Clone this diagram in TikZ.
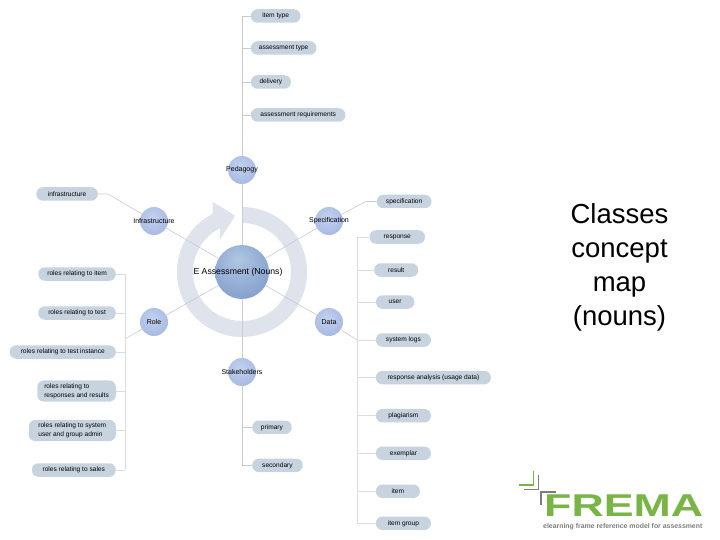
\documentclass[tikz,border=0pt]{standalone}
\usepackage{xcolor}
\usepackage{fontspec}
\usepackage{tikz}
\usetikzlibrary{positioning}
\setmainfont{Liberation Sans}

\definecolor{leafblue}{RGB}{199,212,224}
\definecolor{ringgrey}{RGB}{222,227,236}
\definecolor{linegrey}{RGB}{200,204,208}
\definecolor{fremagreen}{RGB}{120,180,70}
\definecolor{fremagrey}{RGB}{125,125,125}

\pgfdeclareradialshading{smallball}{\pgfpoint{-4bp}{8bp}}{
	rgb(0bp)=(0.76,0.82,0.93);
	rgb(30bp)=(0.66,0.73,0.89);
	rgb(56bp)=(0.47,0.56,0.77);
	rgb(70bp)=(0.43,0.53,0.73)}
\pgfdeclareradialshading{bigball}{\pgfpoint{-4bp}{12bp}}{
	rgb(0bp)=(0.69,0.78,0.89);
	rgb(30bp)=(0.53,0.64,0.81);
	rgb(60bp)=(0.34,0.46,0.66);
	rgb(70bp)=(0.30,0.42,0.62)}

\begin{document}
\begin{tikzpicture}[
	x=1pt,y=1pt,
	on grid,
	ball/.style={
		circle,
		shading=smallball,
		minimum size=28pt,
		inner sep=0pt,
		label={[font=\fontsize{7}{8}\selectfont]center:#1}
	},
	hubball/.style={
		circle,
		shading=bigball,
		minimum size=54pt,
		inner sep=0pt,
		label={[font=\fontsize{8.7}{10}\selectfont,xshift=-4pt]center:#1}
	},
	leaf/.style={
		rectangle,
		rounded corners=6.5pt,
		fill=leafblue,
		align=center,
		font=\fontsize{6.6}{8.6}\selectfont,
		minimum height=13.5pt,
		inner xsep=1pt,
		inner ysep=2pt,
		minimum width=#1
	},
	link/.style={draw=linegrey,line width=0.6pt},
	faint/.style={draw=linegrey!65,line width=0.6pt},
	stem/.style={draw=linegrey,line width=1pt}
	]
	
	\useasboundingbox (0,0) rectangle (720,-540);
	
	\fill[ringgrey,shift={(242,-272)}] (90:65) arc (90:-243:65)
		-- (212.7+-242,-201.7+272) -- (235.3+-242,-215.7+272) -- (220+-242,-239.3+272)
		-- (-243:49) arc (-243:90:49) -- cycle;
	
	\node[hubball={E Assessment (Nouns)}] (hub) at (242,-272) {};
	\node[ball=Pedagogy] (pedagogy) [above=102pt of hub] {};
	\node[ball=Infrastructure] (infrastructure) [above left=51pt and 88pt of hub] {};
	\node[ball=Specification] (specification) [above right=51pt and 87pt of hub] {};
	\node[ball=Role] (role) [below left=50pt and 88pt of hub] {};
	\node[ball=Data] (data) [below right=50pt and 87pt of hub] {};
	\node[ball=Stakeholders] (stakeholders) [below=100pt of hub] {};
	
	\node[leaf=49.5pt,above right=154pt and 8.7pt of pedagogy,anchor=west] (itemtype) {item type};
	\node[leaf=65.5pt,below=32pt of itemtype.west,anchor=west] (assesstype) {assessment type};
	\node[leaf=40pt,below=34pt of assesstype.west,anchor=west] (delivery) {delivery};
	\node[leaf=94.5pt,below=33pt of delivery.west,anchor=west] (requirements) {assessment requirements};
	
	\node[leaf=61.5pt,above left=27pt and 56pt of infrastructure,anchor=east] (infra) {infrastructure};
	
	\node[leaf=77.5pt,above left=48pt and 38pt of role,anchor=east] (rolesitem) {roles relating to item};
	\node[leaf=77.5pt,below=39pt of rolesitem.east,anchor=east] (rolestest) {roles relating to test};
	\node[leaf=106pt,below=39pt of rolestest.east,anchor=east] (rolesinstance) {roles relating to test instance};
	\node[leaf=78.5pt,below=39pt of rolesinstance.east,anchor=east] (rolesresponses) {\begin{tabular}{@{}l@{}}roles relating to\\responses and results\end{tabular}};
	\node[leaf=87pt,below=39.5pt of rolesresponses.east,anchor=east] (rolessystem) {\begin{tabular}{@{}l@{}}roles relating to system\\user and group admin\end{tabular}};
	\node[leaf=84pt,below=39.5pt of rolessystem.east,anchor=east] (rolessales) {roles relating to sales};
	
	\node[leaf=54.5pt,above right=19.5pt and 47.7pt of specification,anchor=west] (spec) {specification};
	\node[leaf=55.5pt,below right=16pt and 40.3pt of specification,anchor=west] (response) {response};
	\node[leaf=44pt,below right=49pt and 45pt of specification,anchor=west] (result) {result};
	\node[leaf=38.5pt,above right=20pt and 46.7pt of data,anchor=west] (user) {user};
	\node[leaf=55pt,below right=18pt and 46.7pt of data,anchor=west] (logs) {system logs};
	\node[leaf=115pt,below=37.7pt of logs.west,anchor=west] (analysis) {response analysis (usage data)};
	\node[leaf=55pt,below=38pt of analysis.west,anchor=west] (plagiarism) {plagiarism};
	\node[leaf=55pt,below=37.6pt of plagiarism.west,anchor=west] (exemplar) {exemplar};
	\node[leaf=44pt,below=38pt of exemplar.west,anchor=west] (item) {item};
	\node[leaf=55pt,below=32pt of item.west,anchor=west] (itemgroup) {item group};
	
	\node[leaf=39.5pt,below right=55.3pt and 10pt of stakeholders,anchor=west] (primary) {primary};
	\node[leaf=50.5pt,below=38pt of primary.west,anchor=west] (secondary) {secondary};
	
	\coordinate[below left=17pt and 29pt of role] (roletrunk);
	\coordinate[left=18.7pt of logs.west] (datatrunk);
	
	\draw[stem] (hub) -- (pedagogy);
	\draw[stem] (hub) -- (stakeholders);
	\draw[link] (hub) -- (infrastructure);
	\draw[link] (hub) -- (specification);
	\draw[link] (hub) -- (role);
	\draw[link] (hub) -- (data);
	
	\draw[link] (pedagogy) -- (pedagogy |- itemtype);
	\foreach \leafname in {itemtype,assesstype,delivery,requirements}
		\draw[link] (pedagogy |- \leafname.west) -- (\leafname.west);
	
	\draw[link] (infra.east) -- +(10,0) -- (infrastructure);
	\draw[link] (spec.west) -- +(-11,0) -- (specification);
	
	\draw[link] (role) -- (roletrunk);
	\draw[faint] (roletrunk |- rolesitem) -- (roletrunk |- rolessales);
	\foreach \leafname in {rolesitem,rolestest,rolesinstance,rolesresponses,rolessystem,rolessales}
		\draw[faint] (roletrunk |- \leafname.east) -- (\leafname.east);
	
	\draw[link] (data) -- (datatrunk);
	\draw[faint] (datatrunk |- response) -- (datatrunk |- itemgroup);
	\foreach \leafname in {response,result,user,logs,analysis,plagiarism,exemplar,item,itemgroup}
		\draw[faint] (datatrunk |- \leafname.west) -- (\leafname.west);
	
	\draw[link] (stakeholders) -- (stakeholders |- secondary);
	\foreach \leafname in {primary,secondary}
		\draw[link] (stakeholders |- \leafname.west) -- (\leafname.west);
	
	\node[align=center,font=\fontsize{27.5}{34}\selectfont] (title) at (619.5,-267) {Classes\\concept\\map\\(nouns)};
	
	\draw[fremagreen,line width=1.2pt] (519,-485) -- (533.5,-485) -- (533.5,-471);
	\draw[fremagrey,line width=1.2pt] (538.3,-475) -- (538.3,-489.5) -- (524,-489.5);
	\draw[fremagrey,line width=1.2pt] (541,-505) -- (541,-492) -- (555.7,-492);
	\node[anchor=south west,inner sep=0pt,text=fremagreen] (frema) at (544,-516.7) {\resizebox{159pt}{21.7pt}{\bfseries FREMA}};
	\node[anchor=base west,inner sep=0pt,text=fremagrey,font=\fontsize{6.9}{8}\selectfont\bfseries] (tagline) at (543,-528) {elearning frame reference model for assessment};
	
\end{tikzpicture}
\end{document}
